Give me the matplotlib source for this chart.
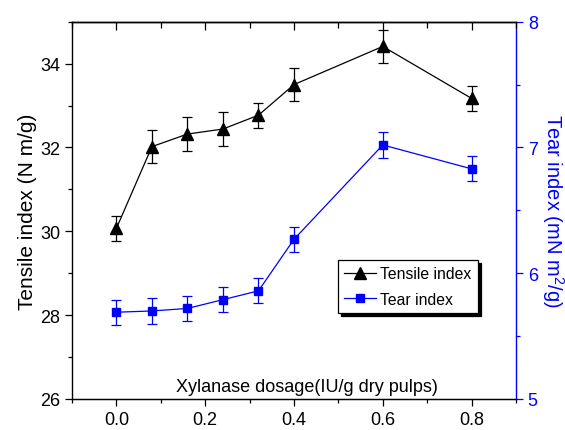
import matplotlib
matplotlib.use("Agg")
import matplotlib.pyplot as plt
from matplotlib.ticker import MultipleLocator
from matplotlib.lines import Line2D

plt.rcParams['font.family'] = ['Liberation Sans', 'DejaVu Sans']
plt.rcParams['mathtext.default'] = 'regular'

dosage = [0.0, 0.08, 0.16, 0.24, 0.32, 0.40, 0.60, 0.80]
tensile = [30.07, 32.02, 32.32, 32.44, 32.77, 33.50, 34.41, 33.17]
tensile_err = [0.29, 0.39, 0.41, 0.40, 0.30, 0.40, 0.40, 0.30]
tear = [5.69, 5.70, 5.72, 5.79, 5.86, 6.27, 7.02, 6.83]
tear_err = [0.10, 0.10, 0.10, 0.10, 0.10, 0.10, 0.10, 0.10]
series_names = ['Tensile index', 'Tear index']

blue = '#0000ff'

fig = plt.figure(figsize=(5.65, 4.31), dpi=100)
ax = fig.add_axes([72/565, 1-400/431, 444/565, 377.3/431])
ax2 = ax.twinx()

ax.errorbar(dosage, tensile, yerr=tensile_err, color='black', marker='^',
            ms=8.5, lw=0.9, elinewidth=0.9, capsize=3.5, capthick=0.9)
ax2.errorbar(dosage, tear, yerr=tear_err, color=blue, marker='s',
             ms=6, lw=0.9, elinewidth=0.9, capsize=3.5, capthick=0.9)

ax.set_xlim(-0.1, 0.9)
ax.set_ylim(26, 35)
ax2.set_ylim(5, 8)

ax.xaxis.set_major_locator(MultipleLocator(0.2))
ax.xaxis.set_minor_locator(MultipleLocator(0.1))
ax.yaxis.set_major_locator(MultipleLocator(2))
ax.yaxis.set_minor_locator(MultipleLocator(1))
ax2.yaxis.set_major_locator(MultipleLocator(1))
ax2.yaxis.set_minor_locator(MultipleLocator(0.5))

ax.set_xticks([0.0, 0.2, 0.4, 0.6, 0.8])
ax.set_xticklabels(['0.0', '0.2', '0.4', '0.6', '0.8'])

ax.tick_params(axis='both', which='major', direction='out', length=5, width=0.9, labelsize=13)
ax.tick_params(axis='both', which='minor', direction='out', length=3, width=0.9)
ax2.tick_params(axis='y', which='major', direction='out', length=5, width=0.9,
                labelsize=13, colors=blue)
ax2.tick_params(axis='y', which='minor', direction='out', length=3, width=0.9, colors=blue)

sec = ax.secondary_xaxis('top')
sec.xaxis.set_major_locator(MultipleLocator(0.2))
sec.xaxis.set_minor_locator(MultipleLocator(0.1))
sec.tick_params(axis='x', which='major', direction='in', length=6, width=0.9, labeltop=False)
sec.tick_params(axis='x', which='minor', direction='in', length=4, width=0.9)
sec.spines['top'].set_linewidth(1.0)

for s in ['left', 'bottom', 'top']:
    ax.spines[s].set_linewidth(1.0)
ax2.spines['right'].set_color(blue)
ax2.spines['right'].set_linewidth(1.0)
ax.spines['right'].set_visible(False)
ax2.spines['left'].set_visible(False)

ax.set_ylabel('Tensile index (N m/g)', fontsize=15, labelpad=2)
ax2.set_ylabel('Tear index (mN m$^2$/g)', fontsize=14.5, color=blue, rotation=270,
               labelpad=20)

ax.text(0.529, 0.034, 'Xylanase dosage(IU/g dry pulps)', transform=ax.transAxes,
        ha='center', va='center', fontsize=13)

h1 = Line2D([], [], color='black', marker='^', ms=8.5, lw=0.9)
h2 = Line2D([], [], color=blue, marker='s', ms=6, lw=0.9)
leg = ax.legend([h1, h2], series_names, loc='upper left',
                bbox_to_anchor=(0.599, 0.368), fontsize=11.3, frameon=True,
                fancybox=False, shadow={'color': 'black', 'alpha': 1},
                edgecolor='black', framealpha=1, borderpad=0.4,
                handlelength=2.0, handletextpad=0.3, labelspacing=0.65,
                borderaxespad=0)
leg.get_frame().set_linewidth(0.9)
leg.set_zorder(10)
ax.set_zorder(ax2.get_zorder() + 1)
ax.patch.set_visible(False)

fig.savefig('out.png', dpi=100)
